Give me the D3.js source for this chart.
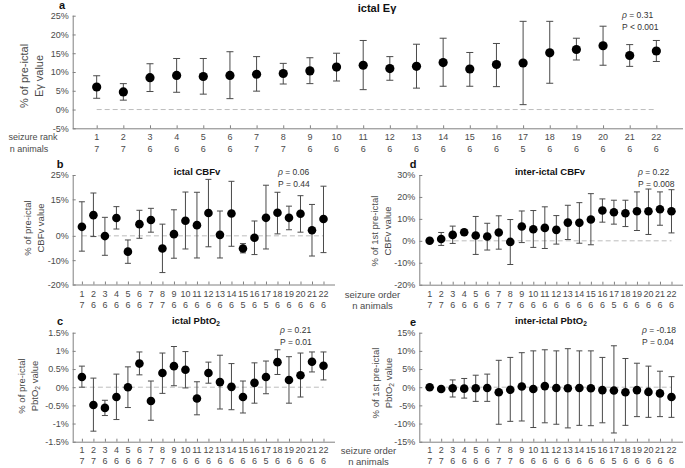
<!DOCTYPE html>
<html><head><meta charset="utf-8">
<script src="https://cdn.jsdelivr.net/npm/d3@7"></script>
<style>
html,body{margin:0;padding:0;background:#fff;}
text{font-family:"Liberation Sans",Arial,Helvetica,sans-serif;}
</style></head>
<body><svg id="chart" width="685" height="468"></svg>
<script>
// ---------- data ----------
const seizures = d3.range(1, 23);

// a: ictal E-gamma
const aMean = [6.0,4.7,8.5,9.1,8.8,9.1,9.4,9.6,10.3,11.3,11.8,10.9,11.5,12.5,10.8,12.0,12.4,15.1,16.0,17.0,14.4,15.6];
const aLow  = [3.0,2.5,4.8,4.6,4.1,2.9,4.9,6.8,6.9,7.6,5.3,7.8,5.7,6.2,6.2,6.1,1.3,7.0,13.2,11.8,11.5,12.8];
const aHigh = [9.0,6.9,12.2,13.6,13.6,15.4,14.1,12.3,13.8,15.0,18.4,14.1,17.4,19.0,15.2,17.6,23.5,23.5,19.0,22.2,17.3,18.4];
const aN    = [7,7,6,6,6,6,7,7,6,6,6,6,6,6,6,6,5,6,6,6,6,6];

// b: ictal CBFv
const bMean = [3.7,8.5,-0.1,7.3,-6.5,4.8,6.5,-5.2,0.7,6.2,4.4,9.4,0.4,9.2,-5.2,-0.8,7.4,9.5,7.4,9.1,2.3,6.9];
const bLow  = [-6.3,-0.3,-8.0,2.8,-11.3,-1.0,1.5,-15.1,-9.2,-5.4,-9.1,-4.5,-9.1,-4.3,-7.0,-7.7,-5.4,0.8,2.5,1.5,-8.3,-6.9];
const bHigh = [14.0,17.6,7.6,12.0,-1.7,10.5,11.3,4.8,10.7,18.0,17.9,23.2,10.2,22.4,-3.2,6.1,20.8,17.9,12.2,16.5,12.9,20.4];
const bN    = [7,6,6,6,6,6,7,7,6,6,6,6,6,6,5,6,5,6,6,6,6,6];

// c: ictal PbtO2
const cMean = [0.28,-0.49,-0.57,-0.27,0.0,0.65,-0.38,0.39,0.58,0.48,-0.31,0.39,0.14,0.01,-0.27,0.12,0.28,0.69,0.20,0.33,0.70,0.59];
const cLow  = [0.0,-1.21,-0.78,-0.89,-0.56,0.34,-0.91,-0.17,0.04,-0.02,-0.76,0.11,-0.60,-0.62,-0.71,-0.44,-0.18,0.35,-0.44,-0.27,0.42,0.20];
const cHigh = [0.58,0.25,-0.36,0.36,0.56,0.97,0.17,0.94,1.12,0.98,0.15,0.69,0.88,0.65,0.17,0.67,0.72,1.03,0.84,0.94,0.97,0.97];
const cN    = [7,7,6,6,6,6,7,7,6,6,6,6,6,6,6,6,5,6,6,6,6,6];

// d: inter-ictal CBFv
const dMean = [0.0,0.8,2.7,3.9,2.4,2.0,3.8,-0.5,6.5,5.3,5.9,5.0,8.3,8.2,9.7,13.8,13.0,12.6,13.5,13.5,14.4,13.5];
const dLow  = [0.0,-2.1,-1.2,2.6,-6.2,-4.2,-3.8,-10.8,-0.8,-3.0,-3.5,-1.5,0.6,-1.1,-1.8,8.5,7.6,6.5,4.7,2.9,7.1,3.6];
const dHigh = [0.0,3.8,6.7,5.2,11.1,8.0,11.4,9.7,13.6,13.8,15.5,11.5,16.2,17.4,21.5,19.1,18.5,18.5,22.3,23.6,22.3,23.3];
const dN    = [7,7,6,6,6,6,7,7,6,6,6,6,6,6,6,6,5,6,6,6,6,6];

// e: inter-ictal PbtO2
const eMean = [0.0,-0.5,-0.3,-0.4,-0.3,-0.2,-1.4,-0.7,0.2,-0.5,0.3,-0.2,-0.3,-0.2,-0.3,-0.8,-0.9,-1.4,-0.8,-1.3,-1.7,-2.7];
const eLow  = [0.0,-0.5,-2.7,-3.0,-3.9,-3.9,-10.2,-9.4,-9.3,-11.1,-9.8,-10.2,-11.2,-10.5,-10.6,-9.8,-12.6,-10.5,-8.1,-8.3,-8.1,-8.3];
const eHigh = [0.0,-0.5,2.0,2.4,3.3,3.6,7.4,8.2,9.5,10.0,10.3,10.0,10.6,10.0,10.0,8.2,11.4,7.9,6.6,5.8,4.4,2.9];
const eN    = [7,7,6,6,6,6,7,7,6,6,6,6,6,6,6,6,5,6,6,6,6,6];

// tick labels
const aTicks = [-5,0,5,10,15,20,25];
const bTicks = [-20,-10,0,15,25];
const cTicks = [-1.5,-1,-0.5,0,0.5,1,1.5];
const dTicks = [-20,-10,0,10,20,30];
const eTicks = [-15,-10,-5,0,5,10,15];

// ---------- drawing ----------
const svg = d3.select("#chart");
const TXT = "#4a4a4a", AX = "#808080", BAR = "#4a4a4a";

function panel(cfg) {
  const x = d3.scaleLinear().domain(cfg.xdom).range([cfg.left, cfg.right]);
  const y = d3.scaleLinear().domain(cfg.ydom).range([cfg.bottom, cfg.top]);
  const g = svg.append("g");

  // y axis
  const ya = g.append("g").attr("transform", `translate(${cfg.left},0)`)
    .call(d3.axisLeft(y).tickValues(cfg.yticks).tickSize(-3).tickPadding(4)
      .tickFormat(d => d + "%"));
  ya.select(".domain").attr("stroke", AX).attr("d", `M0.5,${cfg.top}V${cfg.bottom}`);
  ya.selectAll(".tick line").attr("stroke", AX);
  ya.selectAll(".tick text").attr("fill", TXT).attr("font-size", 9).attr("font-family", null);

  // x axis
  const xa = g.append("g").attr("transform", `translate(0,${cfg.bottom})`)
    .call(d3.axisBottom(x).tickValues(seizures).tickSize(-3).tickFormat(""));
  xa.select(".domain").attr("stroke", AX).attr("d", `M${cfg.left},0.5H${cfg.right}`);
  xa.selectAll(".tick line").attr("stroke", AX);

  // x tick label rows
  g.append("g").selectAll("text").data(seizures).join("text")
    .attr("x", d => x(d)).attr("y", cfg.row1).attr("text-anchor", "middle")
    .attr("dominant-baseline", "middle").attr("font-size", 9).attr("fill", TXT).text(d => d);
  g.append("g").selectAll("text").data(cfg.n).join("text")
    .attr("x", (d, i) => x(seizures[i])).attr("y", cfg.row2).attr("text-anchor", "middle")
    .attr("dominant-baseline", "middle").attr("font-size", 9).attr("fill", TXT).text(d => d);

  // zero line
  g.append("line").attr("x1", x(1)).attr("x2", x(22)).attr("y1", y(0)).attr("y2", y(0))
    .attr("stroke", "#bdbdbd").attr("stroke-width", 1).attr("stroke-dasharray", "5,3");

  // error bars
  const cw = cfg.cap;
  const eb = g.append("g").attr("stroke", BAR).attr("stroke-width", 1).attr("fill", "none");
  seizures.forEach((s, i) => {
    const lo = cfg.low[i], hi = cfg.high[i];
    if (hi - lo < 1e-9) return;
    const xx = x(s);
    eb.append("line").attr("x1", xx).attr("x2", xx).attr("y1", y(lo)).attr("y2", y(hi));
    eb.append("line").attr("x1", xx - cw).attr("x2", xx + cw).attr("y1", y(lo)).attr("y2", y(lo));
    eb.append("line").attr("x1", xx - cw).attr("x2", xx + cw).attr("y1", y(hi)).attr("y2", y(hi));
  });

  // points
  g.append("g").selectAll("circle").data(cfg.mean).join("circle")
    .attr("cx", (d, i) => x(seizures[i])).attr("cy", d => y(d)).attr("r", cfg.r).attr("fill", "#000");

  // title
  const t = g.append("text").attr("x", cfg.titleX).attr("y", cfg.titleY)
    .attr("text-anchor", "middle").attr("dominant-baseline", "middle")
    .attr("font-size", cfg.titleSize).attr("font-weight", "bold").attr("fill", "#111");
  cfg.title.forEach(p => {
    const ts = t.append("tspan").text(p.t);
    if (p.sub) ts.attr("font-size", cfg.titleSize * 0.7).attr("dy", 3);
  });

  // letter
  g.append("text").attr("x", cfg.letterX).attr("y", cfg.letterY).attr("text-anchor", "middle")
    .attr("dominant-baseline", "middle").attr("font-size", 11).attr("font-weight", "bold")
    .attr("fill", "#111").text(cfg.letter);

  // stats
  const st = g.append("text").attr("x", cfg.statX).attr("y", cfg.statY)
    .attr("dominant-baseline", "middle").attr("font-size", 8.5).attr("fill", "#333");
  st.append("tspan").attr("font-style", "italic").text("ρ");
  st.append("tspan").text(" = " + cfg.rho);
  g.append("text").attr("x", cfg.statX).attr("y", cfg.statY + 11.5)
    .attr("dominant-baseline", "middle").attr("font-size", 8.5).attr("fill", "#333").text(cfg.p);

  // y label
  const cy = cfg.ylabY;
  g.append("text").attr("transform", `translate(${cfg.ylabX1},${cy}) rotate(-90)`)
    .attr("text-anchor", "middle").attr("dominant-baseline", "middle")
    .attr("font-size", cfg.ylabSize).attr("fill", TXT).text(cfg.ylab1);
  const yl2 = g.append("text").attr("transform", `translate(${cfg.ylabX2},${cy}) rotate(-90)`)
    .attr("text-anchor", "middle").attr("dominant-baseline", "middle")
    .attr("font-size", cfg.ylabSize).attr("fill", TXT);
  cfg.ylab2.forEach(p => {
    const ts = yl2.append("tspan").text(p.t);
    if (p.sub) ts.attr("font-size", cfg.ylabSize * 0.7).attr("dy", 3);
    if (p.after) ts.attr("dy", -3);
  });

  // row labels
  if (cfg.rowLab) {
    g.append("text").attr("x", cfg.rowLabX).attr("y", cfg.row1).attr("text-anchor", "middle")
      .attr("dominant-baseline", "middle").attr("font-size", cfg.rowLabSize).attr("fill", TXT).text(cfg.rowLab[0]);
    g.append("text").attr("x", cfg.rowLabX2 || cfg.rowLabX).attr("y", cfg.row2).attr("text-anchor", "middle")
      .attr("dominant-baseline", "middle").attr("font-size", cfg.rowLabSize).attr("fill", TXT).text(cfg.rowLab[1]);
  }
}

panel({
  xdom: [0.1, 23], left: 72.7, right: 683, top: 15.7, bottom: 128.3,
  ydom: [-5, 25], yticks: aTicks, mean: aMean, low: aLow, high: aHigh, n: aN,
  row1: 138, row2: 150, cap: 3.5, r: 4.6,
  title: [{t: "ictal E"}, {t: "γ"}], titleX: 377, titleY: 9, titleSize: 11,
  letter: "a", letterX: 62, letterY: 6,
  statX: 622, statY: 16, rho: "0.31", p: "P < 0.001",
  ylab1: "% of pre-ictal", ylab2: [{t: "Eγ value"}], ylabX1: 25, ylabX2: 40, ylabY: 76, ylabSize: 11,
  rowLab: ["seizure rank", "n animals"], rowLabX: 33, rowLabX2: 29, rowLabSize: 9
});

panel({
  xdom: [0.2, 23], left: 72.7, right: 335, top: 175, bottom: 284.5,
  ydom: [-20, 25], yticks: bTicks, mean: bMean, low: bLow, high: bHigh, n: bN,
  row1: 294.5, row2: 305.5, cap: 3, r: 4.3,
  title: [{t: "ictal CBFv"}], titleX: 197, titleY: 172, titleSize: 9.5,
  letter: "b", letterX: 60, letterY: 165,
  statX: 278, statY: 173, rho: "0.06", p: "P = 0.44",
  ylab1: "% of pre-ictal", ylab2: [{t: "CBFv value"}], ylabX1: 28, ylabX2: 41, ylabY: 228, ylabSize: 9.5
});

panel({
  xdom: [0.2, 23], left: 72.7, right: 335, top: 332.7, bottom: 441.7,
  ydom: [-1.5, 1.5], yticks: cTicks, mean: cMean, low: cLow, high: cHigh, n: cN,
  row1: 450.5, row2: 461.5, cap: 3, r: 4.3,
  title: [{t: "ictal PbtO"}, {t: "2", sub: true}], titleX: 196, titleY: 321, titleSize: 9.5,
  letter: "c", letterX: 60, letterY: 322,
  statX: 280, statY: 331, rho: "0.21", p: "P = 0.01",
  ylab1: "% of pre-ictal", ylab2: [{t: "PbtO"}, {t: "2", sub: true}, {t: " value", after: true}], ylabX1: 22, ylabX2: 35, ylabY: 386, ylabSize: 9.5
});

panel({
  xdom: [0.1, 23], left: 419.3, right: 683, top: 175, bottom: 284.7,
  ydom: [-20, 30], yticks: dTicks, mean: dMean, low: dLow, high: dHigh, n: dN,
  row1: 295, row2: 306, cap: 3, r: 4.3,
  title: [{t: "inter-ictal CBFv"}], titleX: 550, titleY: 172, titleSize: 9.5,
  letter: "d", letterX: 413, letterY: 165,
  statX: 638, statY: 173, rho: "0.22", p: "P = 0.008",
  ylab1: "% of 1st pre-ictal", ylab2: [{t: "CBFv value"}], ylabX1: 375, ylabX2: 388, ylabY: 231, ylabSize: 9.5,
  rowLab: ["seizure order", "n animals"], rowLabX: 372.5, rowLabSize: 9.5
});

panel({
  xdom: [0.1, 23], left: 419.3, right: 683, top: 332.7, bottom: 441.7,
  ydom: [-15, 15], yticks: eTicks, mean: eMean, low: eLow, high: eHigh, n: eN,
  row1: 451, row2: 462, cap: 3, r: 4.3,
  title: [{t: "inter-ictal PbtO"}, {t: "2", sub: true}], titleX: 551, titleY: 321, titleSize: 9.5,
  letter: "e", letterX: 413, letterY: 323,
  statX: 642, statY: 331, rho: "-0.18", p: "P = 0.04",
  ylab1: "% of 1st pre-ictal", ylab2: [{t: "PbtO"}, {t: "2", sub: true}, {t: " value", after: true}], ylabX1: 376, ylabX2: 389, ylabY: 383, ylabSize: 9.5,
  rowLab: ["seizure order", "n animals"], rowLabX: 368.5, rowLabSize: 9.5
});
</script></body></html>
